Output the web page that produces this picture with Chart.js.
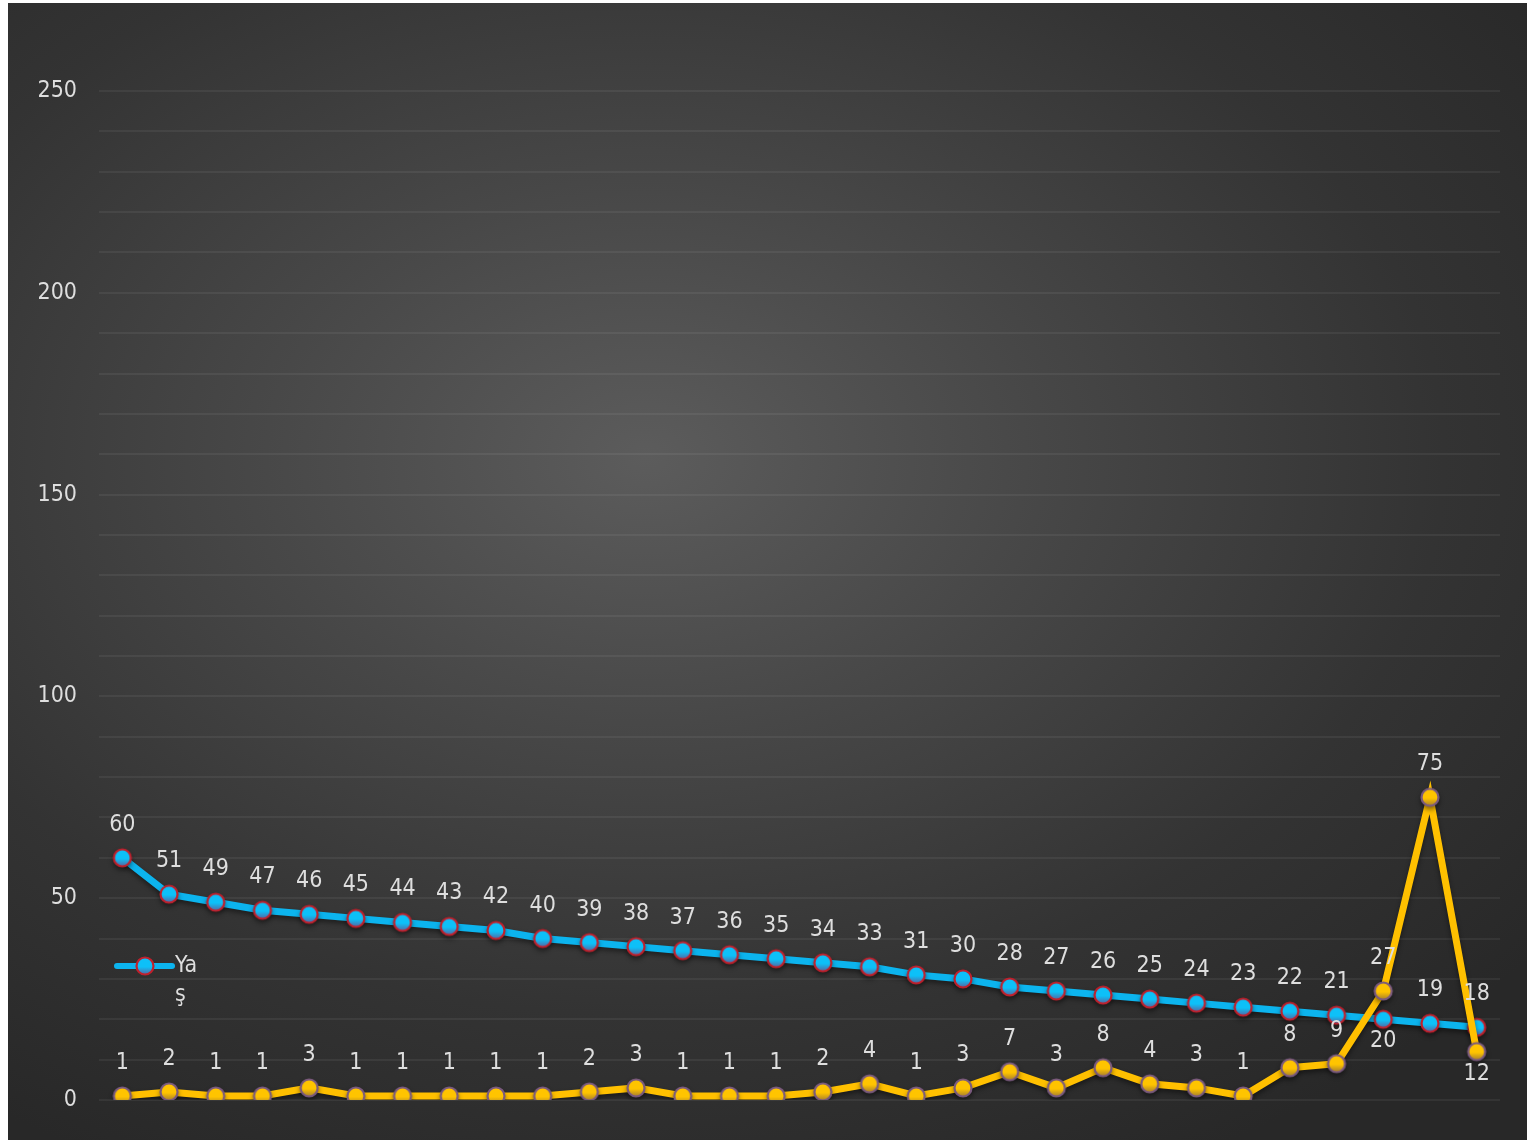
<!DOCTYPE html>
<html>
<head>
<meta charset="utf-8">
<script src="https://cdn.jsdelivr.net/npm/chart.js@4"></script>
<style>
  html, body { margin: 0; padding: 0; background: #fff; }
  #wrap {
    position: absolute; left: 8px; top: 3px; width: 1519px; height: 1137px;
    background: radial-gradient(ellipse 75% 70% at 42% 40%, #5c5c5c 0%, #474747 35%, #333333 70%, #282828 100%);
  }
</style>
</head>
<body>
<div id="wrap"><canvas id="chart"></canvas></div>
<script>
// Veriler
const categories = ['1','2','3','4','5','6','7','8','9','10','11','12','13','14','15',
                    '16','17','18','19','20','21','22','23','24','25','26','27','28','29','30'];
const ageValues = [60, 51, 49, 47, 46, 45, 44, 43, 42, 40, 39, 38, 37, 36, 35,
                   34, 33, 31, 30, 28, 27, 26, 25, 24, 23, 22, 21, 20, 19, 18];
const countValues = [1, 2, 1, 1, 3, 1, 1, 1, 1, 1, 2, 3, 1, 1, 1,
                     2, 4, 1, 3, 7, 3, 8, 4, 3, 1, 8, 9, 27, 75, 12];
const yTicks = [0, 50, 100, 150, 200, 250];

const FONT = '"DejaVu Sans Condensed", "DejaVu Sans", sans-serif';
const TEXT = '#dedede';

// Gradyanlı işaretçi (marker) resmi
function makeMarker(top, bottom, border) {
  const c = document.createElement('canvas');
  c.width = 24; c.height = 24;
  const g = c.getContext('2d');
  const grad = g.createLinearGradient(0, 3, 0, 21);
  grad.addColorStop(0, top);
  grad.addColorStop(0.55, top);
  grad.addColorStop(1, bottom);
  g.beginPath();
  g.arc(12, 12, 8.5, 0, Math.PI * 2);
  g.fillStyle = grad;
  g.fill();
  g.lineWidth = 2.2;
  g.strokeStyle = border;
  g.stroke();
  return c;
}
const blueMarker = makeMarker('#0dc0f8', '#5a5f9a', '#c0202c');
const goldMarker = makeMarker('#ffc400', '#a07a30', '#7a5a7e');

// Gölge eklentisi
const shadowPlugin = {
  id: 'shadow',
  beforeDatasetDraw(chart) {
    const ctx = chart.ctx;
    ctx.save();
    ctx.shadowColor = 'rgba(0,0,0,0.45)';
    ctx.shadowBlur = 5;
    ctx.shadowOffsetY = 3;
  },
  afterDatasetDraw(chart) {
    chart.ctx.restore();
  }
};

// Veri etiketleri
const labelPlugin = {
  id: 'valueLabels',
  afterDatasetsDraw(chart) {
    const ctx = chart.ctx;
    ctx.save();
    ctx.font = '23px ' + FONT;
    ctx.fillStyle = TEXT;
    ctx.textAlign = 'center';
    ctx.textBaseline = 'middle';
    chart.data.datasets.forEach((ds, i) => {
      const meta = chart.getDatasetMeta(i);
      const below = ds.labelBelow || [];
      meta.data.forEach((pt, j) => {
        const dy = below.includes(j) ? 22 : -33;
        ctx.fillText(String(ds.data[j]), pt.x, pt.y + dy);
      });
    });
    ctx.restore();
  }
};

// Özel gösterge (etiket dar alana sarılıyor)
const legendPlugin = {
  id: 'wrapLegend',
  afterDraw(chart) {
    const ctx = chart.ctx;
    const ds = chart.data.datasets[0];
    const x = 109, y = 963;
    ctx.save();
    ctx.strokeStyle = ds.borderColor;
    ctx.lineWidth = 6;
    ctx.lineCap = 'round';
    ctx.beginPath();
    ctx.moveTo(x, y);
    ctx.lineTo(x + 55, y);
    ctx.stroke();
    ctx.drawImage(blueMarker, x + 28 - 12, y - 12);
    ctx.font = '23px ' + FONT;
    ctx.fillStyle = TEXT;
    ctx.textBaseline = 'middle';
    ctx.textAlign = 'left';
    const text = ds.label;
    ctx.fillText(text.slice(0, 2), x + 58, y);
    ctx.fillText(text.slice(2), x + 58, y + 29);
    ctx.restore();
  }
};

new Chart(document.getElementById('chart'), {
  type: 'line',
  data: {
    labels: categories,
    datasets: [
      {
        label: 'Yaş',
        data: ageValues,
        borderColor: '#0cb4ee',
        borderWidth: 7,
        pointStyle: blueMarker,
        pointRadius: 9,
        tension: 0,
        order: 2,
        labelBelow: [27]
      },
      {
        label: '',
        data: countValues,
        borderColor: '#ffc000',
        borderWidth: 7,
        pointStyle: goldMarker,
        pointRadius: 9,
        tension: 0,
        order: 1,
        labelBelow: [29]
      }
    ]
  },
  options: {
    responsive: true,
    maintainAspectRatio: false,
    animation: false,
    layout: { padding: { left: 0, right: 27, top: 88, bottom: 40 } },
    plugins: {
      legend: { display: false },
      tooltip: { enabled: false }
    },
    scales: {
      x: {
        display: false,
        offset: true
      },
      y: {
        min: 0,
        max: 250,
        border: { display: false },
        grid: {
          color: 'rgba(255,255,255,0.06)',
          lineWidth: 2,
          drawTicks: false
        },
        ticks: {
          stepSize: 10,
          padding: 22,
          color: TEXT,
          font: { family: FONT, size: 23 },
          callback: v => yTicks.includes(v) ? String(v) : ''
        },
        afterFit(scale) { scale.width = 91; }
      }
    }
  },
  plugins: [shadowPlugin, labelPlugin, legendPlugin]
});
</script>
</body>
</html>
